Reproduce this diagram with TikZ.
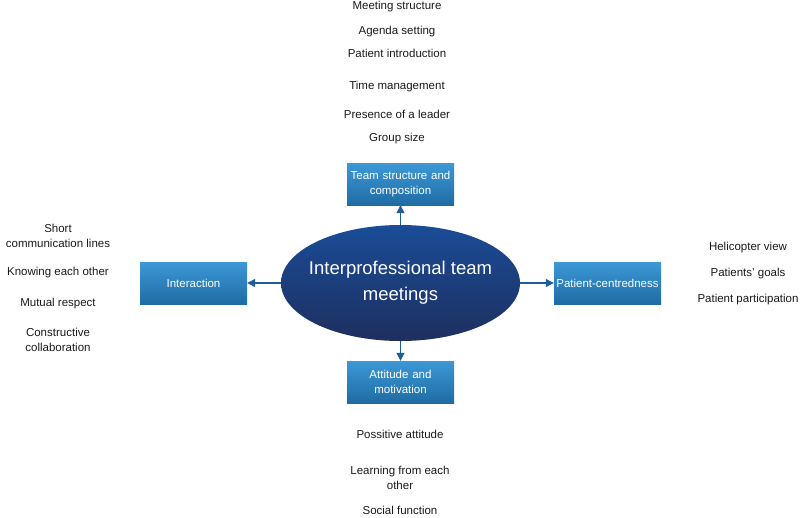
\documentclass[tikz,border=0pt]{standalone}
\usepackage{fontspec}
\setmainfont{Liberation Sans}
\usetikzlibrary{shapes.geometric,arrows.meta}
\definecolor{boxtop}{HTML}{3C98D6}
\definecolor{boxbot}{HTML}{1F6CA4}
\definecolor{elltop}{HTML}{1A4C98}
\definecolor{ellbot}{HTML}{1E2F5E}
\definecolor{arr}{HTML}{1F5F99}
\definecolor{txt}{HTML}{1A1A1A}
\tikzset{
  catbox/.style={rectangle, minimum width=107pt, minimum height=42pt, top color=boxtop, bottom color=boxbot, draw=none, text=white, font=\fontsize{11.5}{15}\selectfont, align=center, text width=104pt, inner sep=0pt},
  item/.style={font=\fontsize{11.5}{15}\selectfont, text=txt, align=center, inner sep=0pt},
  link/.style={draw=arr, line width=1.2pt, -{Triangle[length=8pt,width=8pt]}}
}
\begin{document}
\begin{tikzpicture}[x=1pt,y=-1pt]
\useasboundingbox (0,0) rectangle (800,517);
\node[ellipse, minimum width=239pt, minimum height=116pt, top color=elltop, bottom color=ellbot, inner sep=0pt] (core) at (400.5,283) {};
\node[text=white, font=\fontsize{18.5}{26}\selectfont, align=center, inner sep=0pt] (coretext) at (core.center) {Interprofessional team\\meetings};
\node[catbox] (team) at (400.5,184) {Team structure and\\composition};
\node[catbox] (inter) at (193.5,283) {Interaction};
\node[catbox] (pat) at (607.5,283) {Patient-centredness};
\node[catbox] (att) at (400.5,382) {Attitude and\\motivation};
\draw[link] (core.north) -- (team.south);
\draw[link] (core.west) -- (inter.east);
\draw[link] (core.east) -- (pat.west);
\draw[link] (core.south) -- (att.north);
% top list
\node[item] (t1) at (397,7) {Meeting structure};
\node[item] (t2) at (397,32) {Agenda setting};
\node[item] (t3) at (397,53) {Patient introduction};
\node[item] (t4) at (397,87) {Time management};
\node[item] (t5) at (397,114) {Presence of a leader};
\node[item] (t6) at (397,139) {Group size};
% left list
\node[item] (l1) at (58,236) {Short\\communication lines};
\node[item] (l2) at (58,273) {Knowing each other};
\node[item] (l3) at (58,304) {Mutual respect};
\node[item] (l4) at (58,340) {Constructive\\collaboration};
% right list
\node[item] (r1) at (748,248) {Helicopter view};
\node[item] (r2) at (748,274) {Patients’ goals};
\node[item] (r3) at (748,300) {Patient participation};
% bottom list
\node[item] (b1) at (400,434) {Possitive attitude};
\node[item] (b2) at (400,478) {Learning from each\\other};
\node[item] (b3) at (400,510) {Social function};
\end{tikzpicture}
\end{document}
